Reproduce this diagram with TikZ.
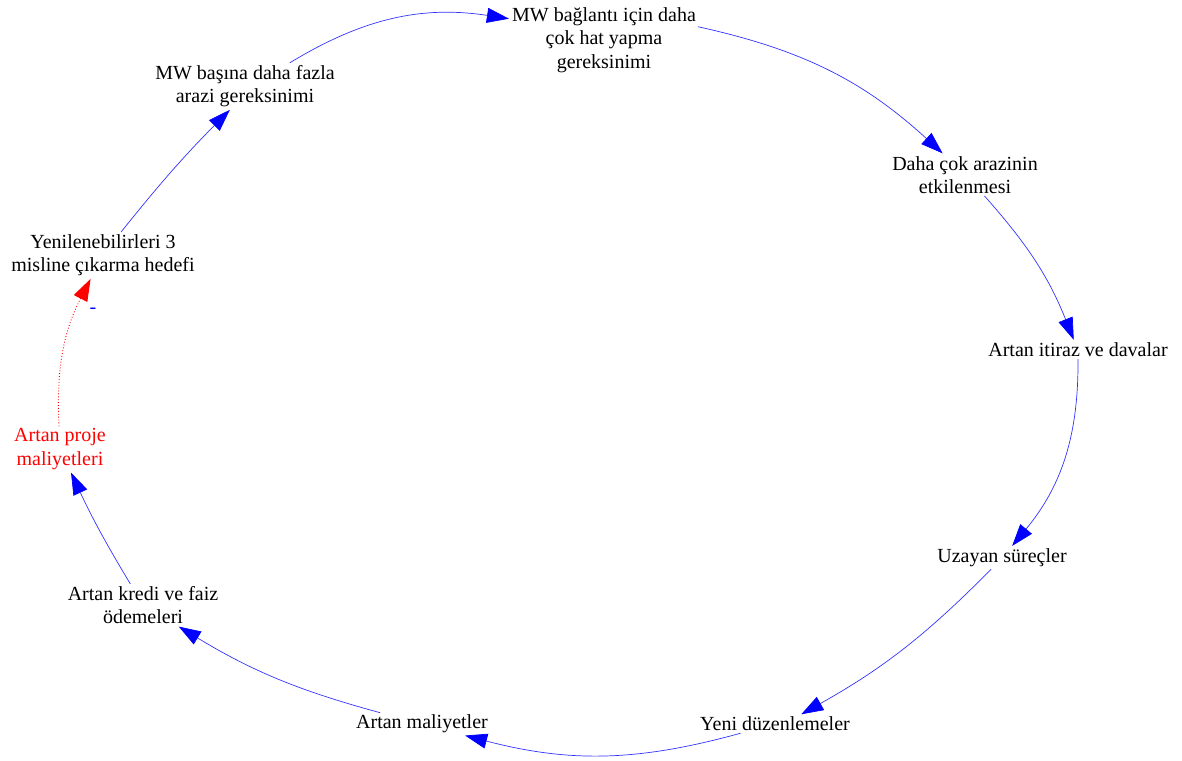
\documentclass[tikz,border=0pt]{standalone}
\usepackage{fontspec}
\setmainfont{Liberation Serif}
\usetikzlibrary{arrows.meta}

\begin{document}
\begin{tikzpicture}[x=1pt,y=1pt,shorten >=1pt,
                    >={Triangle[length=22pt,width=15pt,color=blue]},
                    main node/.style={align=center,inner sep=2pt,
                      font=\fontsize{20}{23.5}\selectfont}]
  \useasboundingbox (0,0) rectangle (1182,760);

  \node[main node] (1) at (103,505) {Yenilenebilirleri 3\\misline çıkarma hedefi};
  \node[main node] (2) at (245,674) {MW başına daha fazla\\arazi gereksinimi};
  \node[main node] (3) at (604,720) {MW bağlantı için daha\\çok hat yapma\\gereksinimi};
  \node[main node] (4) at (965,585) {Daha çok arazinin\\etkilenmesi};
  \node[main node] (5) at (1078,410) {Artan itiraz ve davalar};
  \node[main node] (6) at (1002,202) {Uzayan süreçler};
  \node[main node] (7) at (775,36) {Yeni düzenlemeler};
  \node[main node] (8) at (422,36) {Artan maliyetler};
  \node[main node] (9) at (143,155) {Artan kredi ve faiz\\ödemeleri};
  \node[main node,text=red] (10) at (60,311) {Artan proje\\maliyetleri};

  \path[every edge/.style={draw=blue!80,->,line width=0.7pt}]
    (1) edge [bend left=3] (2.-122)
    (2) edge [bend left=20] (3)
    (3.8) edge [bend left=15] (4)
    (4) edge [bend left=10] (5)
    (5) edge [bend left=20] (6)
    (6) edge [bend left=8] (7.20)
    (7) edge [bend left=15] (8)
    (8) edge [bend left=8] (9)
    (9) edge [bend left=3] (10);
  \path[every edge/.style={draw=red,dotted,line width=0.9pt,
          ->,>={Triangle[length=22pt,width=15pt,color=red]}}]
    (10) edge [bend left=15]
      node [pos=0.78,right=10pt,text=blue,font=\fontsize{20}{23.5}\selectfont] {-} (1);

\end{tikzpicture}
\end{document}
